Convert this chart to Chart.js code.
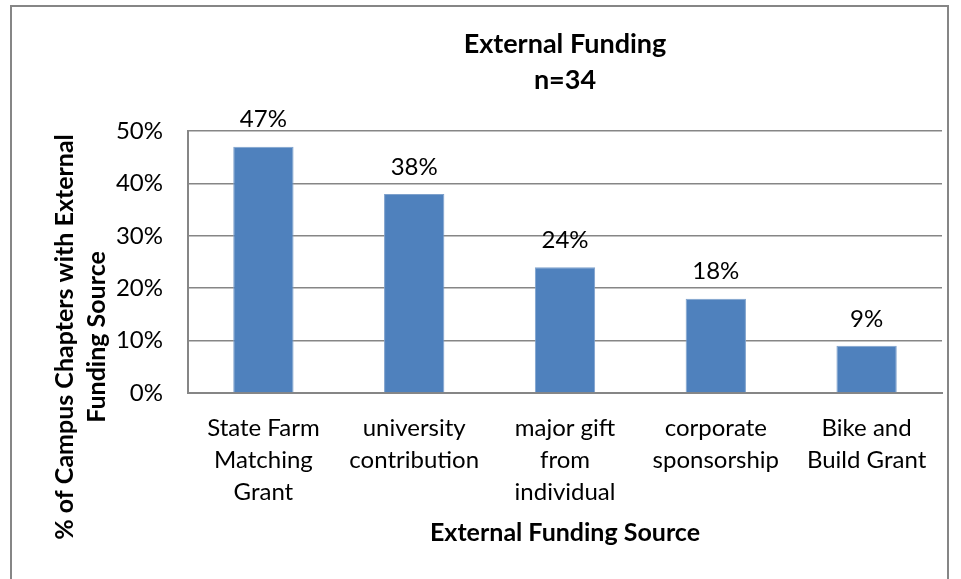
<!DOCTYPE html>
<html>
<head>
<meta charset="utf-8">
<script src="https://cdn.jsdelivr.net/npm/chart.js@4.4.1/dist/chart.umd.min.js"></script>
<style>
  body { margin: 0; background: #fff; }
  canvas { display: block; }
</style>
</head>
<body>
<canvas id="myChart" width="961" height="579"></canvas>
<script>
// chart data
const categories = [
  ['State Farm', 'Matching', 'Grant'],
  ['university', 'contribution'],
  ['major gift', 'from', 'individual'],
  ['corporate', 'sponsorship'],
  ['Bike and', 'Build Grant']
];
const percentValues = [47, 38, 24, 18, 9];
const chartTitle = ['External Funding', 'n=34'];
const yTitle = ['% of Campus Chapters with External', 'Funding Source'];
const xTitle = 'External Funding Source';

const fontFamily = 'Lato, "Open Sans", sans-serif';
const gray = '#868686';

// border, titles and value labels drawn like Excel does
const excelExtras = {
  id: 'excelExtras',
  beforeDraw(chart) {
    const ctx = chart.ctx;
    ctx.save();
    ctx.fillStyle = '#fff';
    ctx.fillRect(0, 0, chart.width, chart.height);
    ctx.strokeStyle = gray;
    ctx.lineWidth = 2;
    ctx.strokeRect(11, 6, 937, 620);
    ctx.restore();
  },
  afterDatasetsDraw(chart) {
    const ctx = chart.ctx;
    const meta = chart.getDatasetMeta(0);
    ctx.save();
    ctx.font = '24px ' + fontFamily;
    ctx.fillStyle = '#000';
    ctx.textAlign = 'center';
    ctx.textBaseline = 'middle';
    meta.data.forEach((bar, i) => {
      ctx.fillText(percentValues[i] + '%', bar.x, bar.y - 27);
    });
    ctx.restore();
  },
  afterDraw(chart) {
    const ctx = chart.ctx;
    const area = chart.chartArea;
    ctx.save();
    ctx.fillStyle = '#000';
    ctx.textAlign = 'center';
    ctx.textBaseline = 'middle';
    ctx.font = 'bold 27px ' + fontFamily;
    const cx = (area.left + area.right) / 2;
    ctx.fillText(chartTitle[0], cx, 44);
    ctx.fillText(chartTitle[1], cx, 80);

    ctx.font = 'bold 25px ' + fontFamily;
    ctx.translate(0, 337);
    ctx.rotate(-Math.PI / 2);
    ctx.fillText(yTitle[0], 0, 65);
    ctx.fillText(yTitle[1], 0, 97);
    ctx.restore();
  }
};

const myChart = document.getElementById('myChart');

new Chart(myChart, {
  type: 'bar',
  data: {
    labels: categories,
    datasets: [{
      data: percentValues,
      backgroundColor: '#4F81BD',
      borderColor: '#7EA1CC',
      borderWidth: 1,
      barPercentage: 0.4,
      categoryPercentage: 1.0
    }]
  },
  options: {
    responsive: false,
    animation: false,
    layout: {
      padding: { top: 131, right: 19, bottom: 0, left: 0 }
    },
    plugins: {
      legend: { display: false },
      tooltip: { enabled: false }
    },
    scales: {
      x: {
        grid: { display: false },
        border: { color: gray, width: 2 },
        ticks: {
          color: '#000',
          font: { family: fontFamily, size: 24, lineHeight: 1.34 },
          padding: 11,
          maxRotation: 0,
          autoSkip: false
        },
        title: {
          display: true,
          text: xTitle,
          color: '#000',
          font: { family: fontFamily, size: 25, weight: 'bold', lineHeight: 1.3 },
          padding: { top: 0, bottom: 30 }
        },
        afterFit(scale) { scale.height = 186; }
      },
      y: {
        min: 0,
        max: 50,
        grid: { color: gray, lineWidth: 1.5, drawTicks: false },
        border: { color: gray, width: 2 },
        ticks: {
          stepSize: 10,
          color: '#000',
          font: { family: fontFamily, size: 24 },
          padding: 25,
          callback: v => v + '%'
        },
        afterFit(scale) { scale.width = 188; }
      }
    }
  },
  plugins: [excelExtras]
});
</script>
</body>
</html>
